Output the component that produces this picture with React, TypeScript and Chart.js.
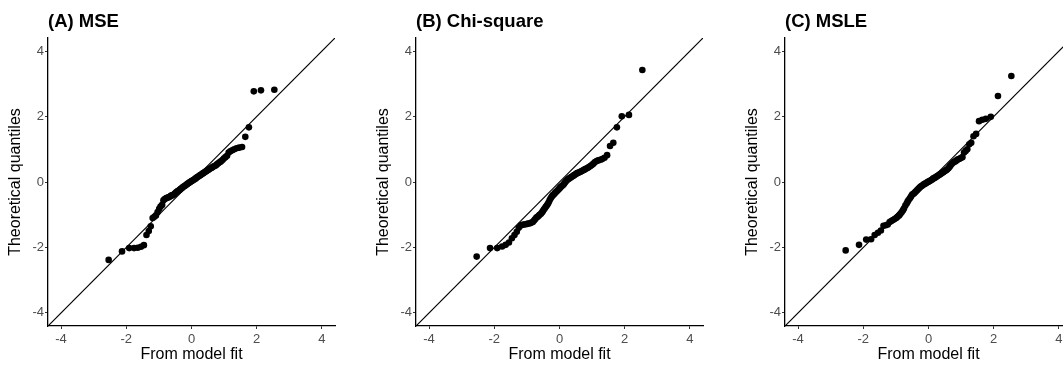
import React, { useEffect, useRef } from "react";
import { Chart, registerables } from "chart.js";

Chart.register(...registerables);

const panelTitles = ["(A) MSE", "(B) Chi-square", "(C) MSLE"];
const xAxisTitle = "From model fit";
const yAxisTitle = "Theoretical quantiles";
const tickValues = [-4, -2, 0, 2, 4];
const axisRange = [-4.4, 4.4];
const refLine = [-4.4, 4.4];

// shared x positions (sorted)
const xs = [
  -2.54, -2.13, -1.91, -1.76, -1.65, -1.55, -1.46, -1.38, -1.31, -1.25,
  -1.19, -1.14, -1.09, -1.04, -0.99, -0.95, -0.9, -0.86, -0.82, -0.78,
  -0.75, -0.71, -0.67, -0.64, -0.61, -0.57, -0.54, -0.51, -0.48, -0.45,
  -0.42, -0.39, -0.36, -0.33, -0.3, -0.27, -0.24, -0.21, -0.18, -0.15,
  -0.13, -0.1, -0.07, -0.04, -0.01, 0.01, 0.04, 0.07, 0.1, 0.13,
  0.15, 0.18, 0.21, 0.24, 0.27, 0.3, 0.33, 0.36, 0.39, 0.42,
  0.45, 0.48, 0.51, 0.54, 0.57, 0.61, 0.64, 0.67, 0.71, 0.75,
  0.78, 0.82, 0.86, 0.9, 0.95, 0.99, 1.04, 1.09, 1.14, 1.19,
  1.25, 1.31, 1.38, 1.46, 1.55, 1.65, 1.76, 1.91, 2.13, 2.54,
];

const mseY = [
  -2.38, -2.12, -2.02, -2.02, -2.01, -1.98, -1.93, -1.62, -1.5, -1.35,
  -1.1, -1.06, -1.02, -0.92, -0.82, -0.75, -0.7, -0.56, -0.52, -0.5,
  -0.48, -0.47, -0.45, -0.43, -0.41, -0.4, -0.38, -0.35, -0.32, -0.3,
  -0.28, -0.26, -0.24, -0.21, -0.19, -0.16, -0.14, -0.12, -0.1, -0.08,
  -0.06, -0.04, -0.02, 0.0, 0.02, 0.03, 0.05, 0.07, 0.09, 0.11,
  0.13, 0.15, 0.17, 0.19, 0.21, 0.23, 0.25, 0.27, 0.29, 0.31,
  0.33, 0.35, 0.37, 0.39, 0.41, 0.43, 0.45, 0.47, 0.49, 0.51,
  0.54, 0.57, 0.6, 0.63, 0.67, 0.72, 0.76, 0.8, 0.9, 0.94,
  0.97, 1.0, 1.03, 1.05, 1.07, 1.38, 1.67, 2.77, 2.8, 2.82,
];

const chiY = [
  -2.28, -2.02, -2.02, -1.97, -1.92, -1.85, -1.72, -1.62, -1.52, -1.4,
  -1.33, -1.31, -1.3, -1.29, -1.28, -1.27, -1.26, -1.24, -1.22, -1.18,
  -1.14, -1.09, -1.06, -1.03, -1.0, -0.97, -0.93, -0.89, -0.84, -0.8,
  -0.76, -0.72, -0.67, -0.62, -0.55, -0.5, -0.45, -0.41, -0.38, -0.35,
  -0.32, -0.3, -0.27, -0.24, -0.21, -0.18, -0.15, -0.12, -0.1, -0.07,
  -0.04, 0.0, 0.04, 0.07, 0.09, 0.11, 0.13, 0.15, 0.17, 0.19,
  0.21, 0.23, 0.25, 0.27, 0.28, 0.3, 0.31, 0.33, 0.35, 0.37,
  0.39, 0.41, 0.43, 0.46, 0.49, 0.52, 0.56, 0.61, 0.64, 0.66,
  0.68, 0.7, 0.74, 0.82, 1.1, 1.2, 1.67, 2.01, 2.05, 3.42,
];

const msleY = [
  -2.09, -1.92, -1.76, -1.75, -1.62, -1.55, -1.48, -1.34, -1.32, -1.3,
  -1.22, -1.19, -1.16, -1.13, -1.1, -1.06, -1.02, -0.97, -0.92, -0.86,
  -0.8, -0.72, -0.66, -0.6, -0.55, -0.5, -0.45, -0.4, -0.37, -0.35,
  -0.32, -0.29, -0.26, -0.23, -0.2, -0.17, -0.14, -0.12, -0.1, -0.08,
  -0.06, -0.05, -0.03, -0.01, 0.0, 0.02, 0.03, 0.05, 0.07, 0.09,
  0.11, 0.12, 0.14, 0.16, 0.18, 0.2, 0.22, 0.24, 0.26, 0.28,
  0.3, 0.32, 0.34, 0.36, 0.38, 0.42, 0.46, 0.5, 0.55, 0.59,
  0.61, 0.63, 0.66, 0.69, 0.71, 0.73, 0.76, 0.9, 0.95, 1.0,
  1.15, 1.2, 1.4, 1.47, 1.86, 1.9, 1.93, 1.99, 2.63, 3.24,
];

const panelSeries = [mseY, chiY, msleY];
const panelLefts = [0, 368, 737];

const FONT = '"Liberation Sans", Arial, Helvetica, sans-serif';

function Panel({ index }: { index: number }) {
  const ref = useRef<HTMLCanvasElement | null>(null);
  useEffect(() => {
    if (!ref.current) return;
    const ys = panelSeries[index];
    const titlePlugin = {
      id: "panelTitle",
      afterDraw(chart: any) {
        const { ctx, chartArea } = chart;
        ctx.save();
        ctx.font = `bold 18.5px ${FONT}`;
        ctx.fillStyle = "#000";
        ctx.textAlign = "left";
        ctx.textBaseline = "alphabetic";
        ctx.fillText(panelTitles[index], chartArea.left, 26.5);
        ctx.restore();
      },
    };
    const axisCommon = (title: string, isY: boolean) => ({
      type: "linear" as const,
      min: axisRange[0],
      max: axisRange[1],
      afterBuildTicks: (s: any) => {
        s.ticks = tickValues.map((v) => ({ value: v }));
      },
      afterFit: (s: any) => {
        if (isY) s.width = 48;
        else s.height = 39;
      },
      ticks: {
        color: "#4d4d4d",
        font: { size: 13, family: FONT },
        padding: isY ? 1 : 3,
        callback: (v: any) => String(v),
      },
      grid: {
        display: true,
        drawOnChartArea: false,
        drawTicks: true,
        tickLength: 3,
        color: "#333333",
        lineWidth: 1,
      },
      border: { display: true, color: "#000", width: 1.3 },
      title: {
        display: true,
        text: title,
        color: "#000",
        font: { size: 16, family: FONT },
        padding: isY ? { top: 6, bottom: 0 } : { top: 0, bottom: 1 },
      },
    });
    const chart = new Chart(ref.current, {
      type: "scatter",
      data: {
        datasets: [
          {
            type: "line",
            data: refLine.map((v) => ({ x: v, y: v })),
            borderColor: "#000",
            borderWidth: 1.2,
            pointRadius: 0,
            fill: false,
          } as any,
          {
            type: "scatter",
            data: xs.map((x, i) => ({ x, y: ys[i] })),
            backgroundColor: "#000",
            borderColor: "#000",
            borderWidth: 0,
            pointRadius: 3.3,
          },
        ],
      },
      options: {
        responsive: false,
        animation: false,
        devicePixelRatio: 1,
        layout: { padding: { top: 38, right: 33, bottom: 0, left: 0 } },
        plugins: {
          legend: { display: false },
          tooltip: { enabled: false },
          title: { display: false },
        },
        scales: {
          x: axisCommon(xAxisTitle, false),
          y: axisCommon(yAxisTitle, true),
        },
      } as any,
      plugins: [titlePlugin],
    });
    return () => chart.destroy();
  }, [index]);
  return (
    <div
      style={{
        position: "absolute",
        left: panelLefts[index],
        top: 0,
        width: 368,
        height: 365,
      }}
    >
      <canvas ref={ref} width={368} height={365} style={{ width: 368, height: 365, display: "block" }} />
    </div>
  );
}

export default function App() {
  return (
    <div
      style={{
        position: "fixed",
        left: 0,
        top: 0,
        width: 1063,
        height: 365,
        overflow: "hidden",
        background: "#fff",
      }}
    >
      {panelTitles.map((_, i) => (
        <Panel key={i} index={i} />
      ))}
    </div>
  );
}
